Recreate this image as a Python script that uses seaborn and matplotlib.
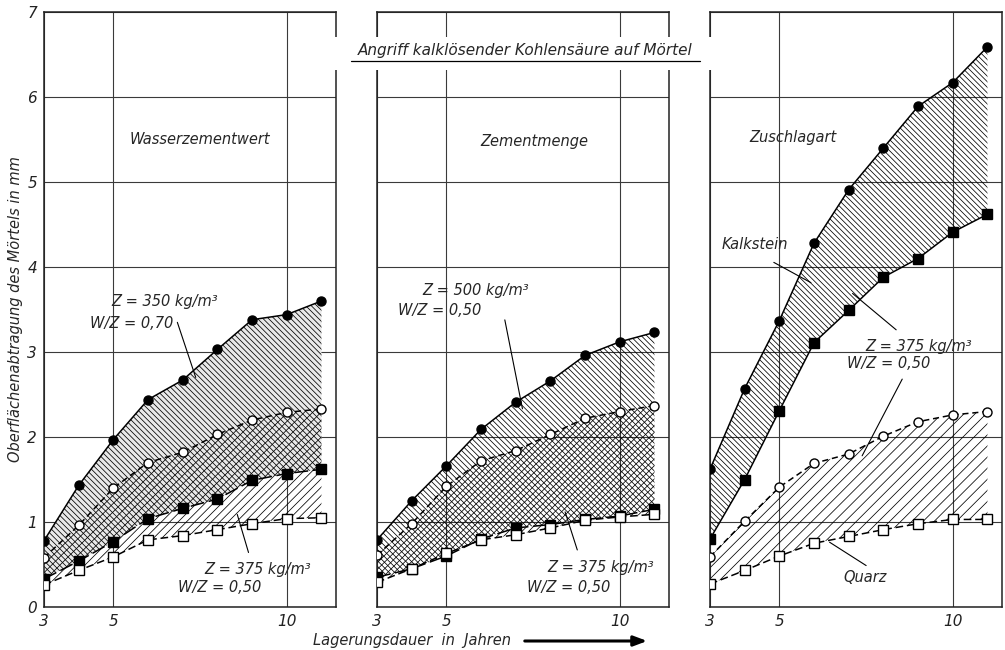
import matplotlib
matplotlib.use("Agg")
import matplotlib.pyplot as plt
import seaborn as sns
from matplotlib.patches import Rectangle, FancyArrowPatch
from matplotlib.lines import Line2D

# data (Oberflaechenabtragung in mm)
years = [3, 4, 5, 6, 7, 8, 9, 10, 11]

# Wasserzementwert
wz_fill_circle = [0.78, 1.43, 1.97, 2.44, 2.67, 3.03, 3.38, 3.44, 3.60]
wz_open_circle = [0.58, 0.96, 1.40, 1.70, 1.82, 2.03, 2.20, 2.29, 2.33]
wz_fill_square = [0.33, 0.54, 0.77, 1.04, 1.16, 1.27, 1.49, 1.57, 1.62]
wz_open_square = [0.26, 0.43, 0.59, 0.79, 0.84, 0.91, 0.98, 1.04, 1.05]

# Zementmenge
zm_fill_circle = [0.79, 1.25, 1.66, 2.09, 2.41, 2.66, 2.96, 3.12, 3.23]
zm_open_circle = [0.61, 0.98, 1.42, 1.72, 1.84, 2.03, 2.22, 2.30, 2.37]
zm_fill_square = [0.35, 0.45, 0.60, 0.80, 0.93, 0.97, 1.03, 1.07, 1.15]
zm_open_square = [0.29, 0.45, 0.63, 0.79, 0.85, 0.93, 1.02, 1.06, 1.09]

# Zuschlagart (Kalkstein / Quarz)
za_fill_circle = [1.62, 2.57, 3.37, 4.28, 4.91, 5.40, 5.89, 6.17, 6.59]
za_fill_square = [0.80, 1.50, 2.31, 3.11, 3.49, 3.88, 4.10, 4.41, 4.62]
za_open_circle = [0.59, 1.01, 1.41, 1.69, 1.80, 2.01, 2.18, 2.26, 2.30]
za_open_square = [0.27, 0.43, 0.60, 0.75, 0.83, 0.91, 0.98, 1.03, 1.03]

panel_titles = ["Wasserzementwert", "Zementmenge", "Zuschlagart"]
x_ticks = [3, 5, 10]
y_ticks = [0, 1, 2, 3, 4, 5, 6, 7]

sns.set_theme(style="white")
plt.rcParams["font.family"] = ["DejaVu Sans"]
plt.rcParams["font.style"] = "italic"
plt.rcParams["hatch.linewidth"] = 0.55
plt.rcParams["hatch.color"] = "black"

W, H = 1005, 650
fig = plt.figure(figsize=(W / 100, H / 100), dpi=100)
fig.patch.set_facecolor("white")

lefts = [44, 377, 710]
axes = [fig.add_axes([l / W, (H - 607) / H, 292 / W, 595 / H]) for l in lefts]


def draw_series(ax, y, marker, face, ls):
    sns.lineplot(x=years, y=y, ax=ax, color="black", linewidth=1.1, linestyle=ls,
                 marker=marker, markersize=6.5, markerfacecolor=face,
                 markeredgecolor="black", markeredgewidth=1.0,
                 errorbar=None, legend=False, zorder=4)


def band(ax, lower, upper, hatch, face="none"):
    ax.fill_between(years, lower, upper, facecolor=face, edgecolor="black",
                    hatch=hatch, linewidth=0, zorder=2)


panels = [
    (wz_fill_circle, wz_open_circle, wz_fill_square, wz_open_square),
    (zm_fill_circle, zm_open_circle, zm_fill_square, zm_open_square),
    (za_fill_circle, za_open_circle, za_fill_square, za_open_square),
]

for i, (ax, (fc, oc, fs, os_)) in enumerate(zip(axes, panels)):
    if i == 0:
        band(ax, fs, fc, "\\" * 6, face="#e9e9e9")
        band(ax, os_, oc, "/" * 4)
    elif i == 1:
        band(ax, fs, fc, "\\" * 6)
        band(ax, os_, oc, "/" * 5)
    else:
        band(ax, fs, fc, "\\" * 6)
        band(ax, os_, oc, "/" * 3)

    sq_ls = "-" if i == 2 else (0, (9, 3))
    draw_series(ax, fc, "o", "black", "-")
    draw_series(ax, oc, "o", "white", (0, (4, 2.5)))
    draw_series(ax, fs, "s", "black", sq_ls)
    draw_series(ax, os_, "s", "white", (0, (5, 2.5)))

    ax.set_xlim(3, 11.42)
    ax.set_ylim(0, 7)
    ax.set_xticks(x_ticks)
    ax.set_xticklabels([str(t) for t in x_ticks])
    ax.set_yticks(y_ticks)
    if i == 0:
        ax.set_yticklabels([str(t) for t in y_ticks])
    else:
        ax.set_yticklabels([])
    ax.set_axisbelow(True)
    ax.grid(True, color="#3a3a3a", linewidth=0.8)
    ax.tick_params(length=0, labelsize=11, pad=5, colors="#222222")
    for s in ax.spines.values():
        s.set_color("#222222")
        s.set_linewidth(1.1)
    ax.set_xlabel("")
    ax.set_ylabel("")

axes[0].set_ylabel("Oberflächenabtragung des Mörtels in mm", fontsize=10.5, labelpad=3)

# panel headings
axes[0].text(7.5, 5.5, panel_titles[0], ha="center", va="center", fontsize=10.5)
axes[1].text(7.53, 5.48, panel_titles[1], ha="center", va="center", fontsize=10.5)
axes[2].text(5.4, 5.52, panel_titles[2], ha="center", va="center", fontsize=10.5)

lead = dict(arrowstyle="-", color="black", lw=0.8)
fs_lab = 10.5

# Wasserzementwert labels
ax = axes[0]
ax.text(6.47, 3.59, "Z = 350 kg/m³", ha="center", va="center", fontsize=fs_lab)
ax.text(5.53, 3.34, "W/Z = 0,70", ha="center", va="center", fontsize=fs_lab)
ax.annotate("", xy=(7.40, 2.67), xytext=(6.82, 3.38), arrowprops=lead)
ax.text(9.15, 0.44, "Z = 375 kg/m³", ha="center", va="center", fontsize=fs_lab)
ax.text(8.06, 0.23, "W/Z = 0,50", ha="center", va="center", fontsize=fs_lab)
ax.annotate("", xy=(8.55, 1.12), xytext=(8.92, 0.61), arrowprops=lead)

# Zementmenge labels
ax = axes[1]
ax.text(5.84, 3.72, "Z = 500 kg/m³", ha="center", va="center", fontsize=fs_lab)
ax.text(4.8, 3.49, "W/Z = 0,50", ha="center", va="center", fontsize=fs_lab)
ax.annotate("", xy=(7.21, 2.30), xytext=(6.67, 3.41), arrowprops=lead)
ax.text(9.46, 0.47, "Z = 375 kg/m³", ha="center", va="center", fontsize=fs_lab)
ax.text(8.54, 0.23, "W/Z = 0,50", ha="center", va="center", fontsize=fs_lab)
ax.annotate("", xy=(8.4, 1.15), xytext=(8.8, 0.64), arrowprops=lead)

# Zuschlagart labels
ax = axes[2]
ax.text(4.28, 4.27, "Kalkstein", ha="center", va="center", fontsize=fs_lab)
ax.annotate("", xy=(5.98, 3.80), xytext=(4.77, 4.07), arrowprops=lead)
ax.text(9.01, 3.07, "Z = 375 kg/m³", ha="center", va="center", fontsize=fs_lab)
ax.text(8.14, 2.86, "W/Z = 0,50", ha="center", va="center", fontsize=fs_lab)
ax.annotate("", xy=(7.05, 3.71), xytext=(8.43, 3.24), arrowprops=lead)
ax.annotate("", xy=(7.35, 1.75), xytext=(8.58, 2.71), arrowprops=lead)
ax.text(7.48, 0.35, "Quarz", ha="center", va="center", fontsize=fs_lab)
ax.annotate("", xy=(6.38, 0.78), xytext=(7.57, 0.47), arrowprops=lead)

# title in a white box over the gaps
fig.patches.append(Rectangle((333 / W, 1 - 70 / H), (716 - 333) / W, 33 / H,
                             transform=fig.transFigure, facecolor="white",
                             edgecolor="none", zorder=5))
fig.text(525.5 / W, 1 - 50 / H, "Angriff kalklösender Kohlensäure auf Mörtel",
         ha="center", va="center", fontsize=11, zorder=6)
fig.lines.append(Line2D([351 / W, 700 / W], [1 - 61 / H, 1 - 61 / H],
                        transform=fig.transFigure, color="black", lw=0.9, zorder=6))

# x axis label with arrow
fig.text(412 / W, 1 - 641 / H, "Lagerungsdauer  in  Jahren", ha="center",
         va="center", fontsize=10.5)
fig.patches.append(FancyArrowPatch(
    (522 / W, 1 - 641 / H), (650 / W, 1 - 641 / H), transform=fig.transFigure,
    arrowstyle="-|>,head_length=8,head_width=3", lw=2.2, color="black", zorder=6))

fig.savefig("out.png", dpi=100)
